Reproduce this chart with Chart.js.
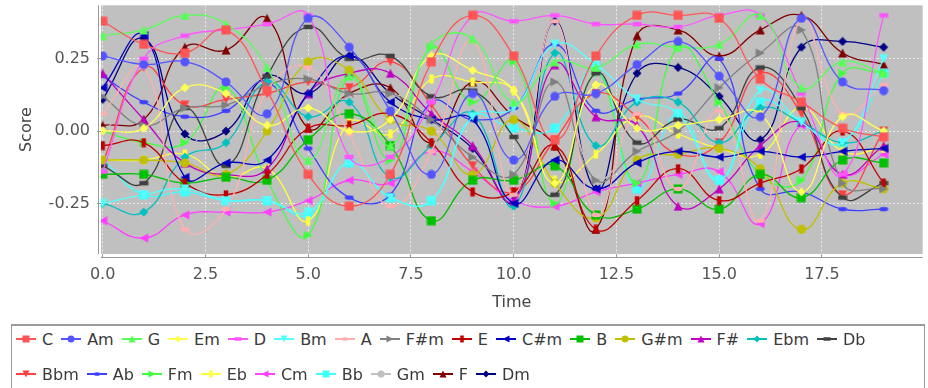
<!DOCTYPE html>
<html>
<head>
<meta charset="utf-8">
<script src="https://cdn.jsdelivr.net/npm/chart.js@4.4.1/dist/chart.umd.min.js"></script>
<style>
  html, body { margin: 0; padding: 0; background: #fff; overflow: hidden; }
  #wrap { position: relative; width: 928px; height: 388px; }
  #chart { position: absolute; left: 0; top: 0; filter: blur(0.5px); }
  #legend {
    position: absolute; left: 11px; top: 324px; width: 914px; height: 80px;
    border: 1px solid #9a9a9a; border-top-width: 2px; box-sizing: border-box;
    padding: 0 0 0 4px;
    display: flex; flex-wrap: wrap; align-content: flex-start; row-gap: 9px;
    font-family: "DejaVu Sans", sans-serif; font-size: 16px; color: #3a3a3a;
  }
  .item { display: inline-flex; align-items: center; height: 26px; margin-right: 8px; white-space: nowrap; }
  .item canvas { margin-right: 6px; }
</style>
</head>
<body>
<div id="wrap">
  <canvas id="chart" width="928" height="315"></canvas>
  <div id="legend"></div>
</div>
<script>
// time steps
var times = [0, 1, 2, 3, 4, 5, 6, 7, 8, 9, 10, 11, 12, 13, 14, 15, 16, 17, 18, 19];

// chord names, in legend order
var keys = ['C', 'Am', 'G', 'Em', 'D', 'Bm', 'A', 'F#m', 'E', 'C#m', 'B', 'G#m',
            'F#', 'Ebm', 'Db', 'Bbm', 'Ab', 'Fm', 'Eb', 'Cm', 'Bb', 'Gm', 'F', 'Dm'];

// score per chord over time
var sC   = [0.38, 0.30, 0.27, 0.35, 0.14, -0.15, -0.26, -0.15, 0.24, 0.40, 0.26, -0.03, 0.26, 0.40, 0.40, 0.39, 0.18, 0.10, 0.01, -0.02];
var sAm  = [0.26, 0.23, 0.24, 0.17, 0.06, 0.39, 0.29, 0.07, -0.15, 0.13, -0.10, 0.12, 0.13, 0.23, 0.31, 0.19, 0.05, 0.39, 0.17, 0.14];
var sG   = [0.33, 0.35, 0.40, 0.37, 0.22, -0.10, 0.19, -0.05, 0.30, 0.32, 0.10, 0.24, 0.22, 0.30, 0.29, 0.30, 0.40, 0.15, 0.24, 0.20];
var sEm  = [0.00, 0.01, 0.15, 0.13, 0.02, 0.08, 0.00, 0.04, 0.26, 0.21, 0.14, -0.18, 0.16, 0.01, 0.02, 0.04, 0.06, -0.21, 0.05, 0.00];
var sD   = [-0.14, 0.25, 0.33, 0.35, 0.37, 0.40, -0.09, -0.09, 0.10, 0.40, 0.38, 0.40, 0.37, 0.37, 0.36, 0.40, 0.40, 0.13, -0.15, 0.40];
var sBm  = [-0.25, -0.22, -0.20, -0.24, -0.24, -0.28, -0.11, -0.23, -0.24, 0.05, 0.08, 0.30, 0.23, 0.11, 0.06, -0.17, 0.14, 0.03, -0.04, 0.25];
var sA   = [0.06, 0.22, -0.34, -0.27, 0.14, 0.22, -0.01, -0.26, -0.07, 0.31, -0.22, 0.38, -0.29, 0.06, -0.20, 0.07, -0.31, 0.39, 0.06, 0.16];
var sFsm = [0.12, 0.02, 0.08, 0.09, 0.16, 0.18, 0.13, 0.13, 0.04, -0.09, -0.15, 0.17, -0.17, -0.07, 0.00, 0.15, 0.27, 0.35, -0.18, -0.20];
var sE   = [-0.05, -0.04, -0.18, -0.22, -0.15, 0.01, 0.02, 0.06, -0.04, -0.21, -0.21, -0.05, -0.34, -0.24, -0.13, -0.24, -0.18, -0.13, 0.00, -0.18];
var sCsm = [0.15, 0.33, -0.16, -0.11, -0.10, 0.13, 0.26, 0.10, 0.04, 0.04, -0.25, -0.10, -0.20, -0.11, -0.07, -0.09, -0.07, -0.09, -0.07, -0.06];
var sB   = [-0.15, -0.15, -0.18, -0.16, -0.17, -0.03, 0.06, -0.05, -0.31, -0.17, -0.17, -0.12, -0.29, -0.27, -0.20, -0.27, -0.15, -0.23, -0.10, -0.11];
var sGsm = [-0.10, -0.10, -0.11, -0.15, 0.00, 0.24, 0.21, 0.04, 0.00, -0.15, 0.04, -0.18, -0.30, -0.10, -0.08, -0.06, -0.13, -0.34, -0.18, -0.20];
var sFs  = [0.20, 0.04, -0.11, -0.15, -0.13, 0.13, 0.20, 0.20, 0.06, -0.05, -0.24, 0.23, 0.05, 0.02, -0.26, -0.20, -0.05, 0.03, -0.15, -0.05];
var sEbm = [-0.25, -0.28, -0.09, -0.04, 0.17, 0.05, 0.10, -0.16, -0.05, 0.06, -0.26, 0.27, -0.05, 0.10, 0.10, -0.04, 0.08, 0.03, -0.04, 0.00];
var sDb  = [-0.12, -0.18, 0.08, -0.12, 0.19, 0.36, 0.25, 0.26, 0.12, 0.14, -0.02, -0.22, 0.20, -0.04, 0.04, 0.01, 0.22, 0.08, -0.23, -0.18];
var sBbm = [-0.11, 0.22, 0.09, 0.11, 0.13, 0.17, 0.15, 0.24, 0.09, -0.12, -0.21, -0.03, 0.13, 0.05, -0.08, -0.04, 0.20, 0.06, -0.22, 0.00];
var sAb  = [0.19, 0.10, 0.05, 0.07, 0.17, -0.06, -0.23, -0.22, 0.10, 0.04, 0.08, 0.30, 0.07, 0.11, 0.13, 0.25, -0.20, -0.21, -0.27, -0.27];
var sFm  = [0.00, -0.04, -0.04, 0.15, -0.17, -0.36, 0.19, -0.10, 0.29, 0.10, 0.24, -0.25, 0.20, -0.18, 0.29, 0.10, -0.15, -0.17, 0.20, 0.20];
var sEb  = [-0.10, -0.10, -0.08, -0.16, -0.13, -0.31, 0.03, -0.01, 0.18, 0.17, 0.14, -0.17, -0.08, 0.05, -0.01, -0.06, -0.08, 0.08, -0.07, -0.06];
var sCm  = [-0.31, -0.37, -0.29, -0.28, -0.28, -0.24, -0.17, -0.18, -0.07, -0.14, -0.24, -0.26, -0.21, -0.18, -0.15, -0.14, -0.32, 0.02, -0.15, -0.08];
var sBb  = [-0.10, -0.22, -0.21, -0.24, -0.24, -0.29, -0.11, -0.23, -0.24, 0.05, 0.01, 0.01, 0.22, -0.20, 0.06, -0.17, 0.10, 0.03, -0.04, 0.20];
var sGm  = [0.00, 0.10, -0.06, 0.11, -0.06, 0.10, 0.11, 0.12, 0.12, 0.00, 0.06, 0.23, -0.16, -0.05, 0.01, 0.02, -0.20, 0.35, 0.14, 0.12];
var sF   = [0.02, 0.04, 0.29, 0.28, 0.39, 0.01, 0.13, 0.15, -0.04, 0.17, 0.05, -0.05, -0.34, 0.33, 0.35, 0.26, 0.35, 0.40, 0.27, 0.23];
var sDm  = [0.11, 0.32, -0.01, 0.00, 0.19, 0.13, 0.26, 0.13, 0.04, -0.06, -0.24, 0.38, -0.20, 0.20, 0.22, 0.12, -0.03, 0.29, 0.31, 0.29];

var scores = [sC, sAm, sG, sEm, sD, sBm, sA, sFsm, sE, sCsm, sB, sGsm,
              sFs, sEbm, sDb, sBbm, sAb, sFm, sEb, sCm, sBb, sGm, sF, sDm];

// default java chart palette + shape cycle
var colors = ['#ff5555', '#5555ff', '#55ff55', '#ffff55', '#ff55ff', '#55ffff', '#ffafaf', '#808080',
              '#c00000', '#0000c0', '#00c000', '#c0c000', '#c000c0', '#00c0c0', '#404040',
              '#ff4040', '#4040ff', '#40ff40', '#ffff40', '#ff40ff', '#40ffff', '#c0c0c0', '#800000', '#000080'];
var shapes = ['square', 'circle', 'up', 'diamond', 'hrect', 'down', 'hellipse', 'right', 'vrect', 'left'];

function shapePath(ctx, kind, cx, cy, d) {
    ctx.beginPath();
    if (kind === 'square') ctx.rect(cx - d, cy - d, 2 * d, 2 * d);
    else if (kind === 'circle') ctx.arc(cx, cy, d, 0, Math.PI * 2);
    else if (kind === 'up') { ctx.moveTo(cx, cy - d); ctx.lineTo(cx + d, cy + d); ctx.lineTo(cx - d, cy + d); }
    else if (kind === 'diamond') { ctx.moveTo(cx, cy - d); ctx.lineTo(cx + d, cy); ctx.lineTo(cx, cy + d); ctx.lineTo(cx - d, cy); }
    else if (kind === 'hrect') ctx.rect(cx - d, cy - d / 2, 2 * d, d);
    else if (kind === 'down') { ctx.moveTo(cx - d, cy - d); ctx.lineTo(cx + d, cy - d); ctx.lineTo(cx, cy + d); }
    else if (kind === 'hellipse') ctx.ellipse(cx, cy, d, d / 2, 0, 0, Math.PI * 2);
    else if (kind === 'right') { ctx.moveTo(cx - d, cy - d); ctx.lineTo(cx + d, cy); ctx.lineTo(cx - d, cy + d); }
    else if (kind === 'vrect') ctx.rect(cx - d / 2, cy - d, d, 2 * d);
    else if (kind === 'left') { ctx.moveTo(cx - d, cy); ctx.lineTo(cx + d, cy - d); ctx.lineTo(cx + d, cy + d); }
    ctx.closePath();
    ctx.fill();
}

function pointImage(kind, color) {
    var c = document.createElement('canvas');
    c.width = 10; c.height = 10;
    var ctx = c.getContext('2d');
    ctx.fillStyle = color;
    shapePath(ctx, kind, 5, 5, 4.5);
    return c;
}

function legendIcon(kind, color) {
    var c = document.createElement('canvas');
    c.width = 20; c.height = 12;
    var ctx = c.getContext('2d');
    ctx.strokeStyle = color;
    ctx.lineWidth = 2;
    ctx.beginPath(); ctx.moveTo(0, 6); ctx.lineTo(20, 6); ctx.stroke();
    ctx.fillStyle = color;
    shapePath(ctx, kind, 10, 6, 3.5);
    return c;
}

var datasets = keys.map(function(k, i) {
    return {
        label: k,
        data: scores[i].map(function(v, j) { return { x: times[j], y: v }; }),
        borderColor: colors[i],
        backgroundColor: colors[i],
        borderWidth: 1.3,
        tension: 0.45,
        fill: false,
        pointStyle: pointImage(shapes[i % 10], colors[i]),
        pointRadius: 4
    };
});

// gray plot area plus detached axis lines
var plotBg = {
    id: 'plotBg',
    beforeDraw: function(chart) {
        var a = chart.chartArea, ctx = chart.ctx;
        ctx.save();
        ctx.fillStyle = '#c0c0c0';
        ctx.fillRect(a.left, a.top, a.right - a.left, a.bottom - a.top);
        ctx.strokeStyle = '#9a9a9a';
        ctx.lineWidth = 1;
        ctx.beginPath();
        ctx.moveTo(a.left - 2.5, a.top);
        ctx.lineTo(a.left - 2.5, a.bottom);
        ctx.moveTo(a.left, a.bottom + 3.5);
        ctx.lineTo(a.right, a.bottom + 3.5);
        ctx.stroke();
        ctx.restore();
    }
};

var tickFont = { family: 'DejaVu Sans', size: 16 };

new Chart(document.getElementById('chart'), {
    type: 'line',
    data: { datasets: datasets },
    plugins: [plotBg],
    options: {
        responsive: false,
        animation: false,
        elements: { line: { capBezierPoints: false } },
        layout: { padding: { top: 2, right: 3, left: 0, bottom: 0 } },
        plugins: { legend: { display: false }, tooltip: { enabled: false } },
        scales: {
            x: {
                type: 'linear',
                min: -0.04,
                max: 19.95,
                afterFit: function(s) { s.height = 61; s.paddingLeft = 0; s.paddingRight = 0; },
                ticks: {
                    stepSize: 2.5, includeBounds: false, padding: 7,
                    color: '#555', font: tickFont, maxRotation: 0,
                    callback: function(v) { return v.toFixed(1); }
                },
                grid: { color: 'rgba(255,255,255,0.7)', tickColor: '#9a9a9a', tickLength: 4 },
                border: { display: false, dash: [2, 2] },
                title: { display: true, text: 'Time', color: '#444', font: tickFont, padding: { top: 0, bottom: 3 } }
            },
            y: {
                min: -0.425,
                max: 0.435,
                afterFit: function(s) { s.width = 101; s.paddingTop = 0; s.paddingBottom = 0; },
                ticks: {
                    stepSize: 0.25, includeBounds: false, padding: 7,
                    color: '#555', font: tickFont,
                    callback: function(v) { return v.toFixed(2); }
                },
                grid: { color: 'rgba(255,255,255,0.7)', tickColor: '#9a9a9a', tickLength: 4 },
                border: { display: false, dash: [2, 2] },
                title: { display: true, text: 'Score', color: '#444', font: tickFont, padding: { top: 17, bottom: 0 } }
            }
        }
    }
});

// legend: line + marker, like the source chart
var legendEl = document.getElementById('legend');
keys.forEach(function(k, i) {
    var item = document.createElement('span');
    item.className = 'item';
    item.appendChild(legendIcon(shapes[i % 10], colors[i]));
    var t = document.createElement('span');
    t.textContent = k;
    item.appendChild(t);
    legendEl.appendChild(item);
});
</script>
</body>
</html>
